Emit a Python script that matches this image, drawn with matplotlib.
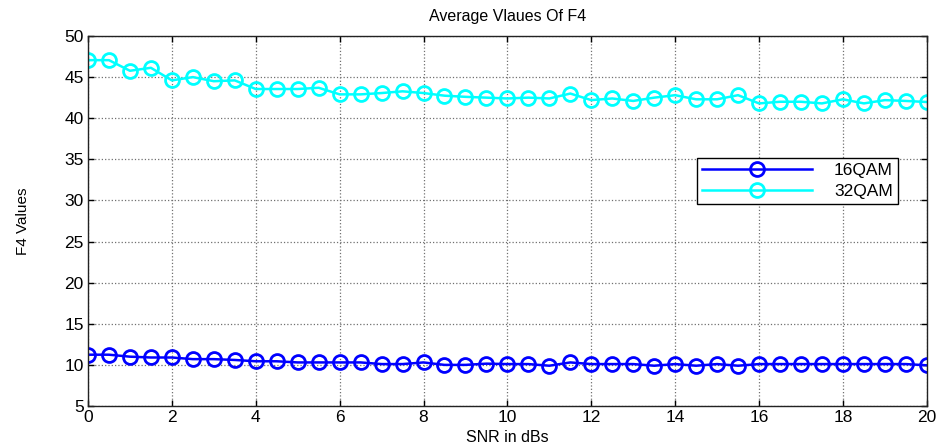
import matplotlib.pyplot as plt
import numpy as np

# ======= DATOS ==========
snr = np.arange(0, 20.5, 0.5)

f4_16qam = [11.24, 11.24, 11.0, 10.9, 10.9, 10.7, 10.7, 10.6, 10.44, 10.44,
            10.3, 10.3, 10.3, 10.3, 10.1, 10.1, 10.3, 10.0, 10.0, 10.15,
            10.1, 10.1, 9.9, 10.3, 10.1, 10.1, 10.1, 9.9, 10.1, 9.9,
            10.1, 9.9, 10.1, 10.1, 10.1, 10.1, 10.1, 10.1, 10.1, 10.1, 9.95]

f4_32qam = [47.06, 47.06, 45.77, 46.13, 44.6, 45.0, 44.5, 44.6, 43.55, 43.55,
            43.55, 43.7, 42.9, 42.9, 43.06, 43.27, 43.06, 42.74, 42.6, 42.5,
            42.4, 42.5, 42.4, 43.0, 42.2, 42.4, 42.1, 42.5, 42.8, 42.3,
            42.3, 42.8, 41.8, 42.0, 42.0, 41.8, 42.3, 41.8, 42.2, 42.1, 41.97]

titulo = "Average Vlaues Of F4"
etiqueta_x = "SNR in dBs"
etiqueta_y = "F4 Values"
# ================================

plt.rcParams['font.family'] = ['Liberation Sans', 'DejaVu Sans']

fig = plt.figure(figsize=(9.39, 4.47), dpi=100)
ax = fig.add_axes([0.0937, 0.0917, 0.8933, 0.8278])

ax.plot(snr, f4_16qam, marker='o', markersize=10, markerfacecolor='none',
        markeredgewidth=2, linewidth=1.8, color='#0000ff', label="16QAM")
ax.plot(snr, f4_32qam, marker='o', markersize=10, markerfacecolor='none',
        markeredgewidth=2, linewidth=1.8, color='#00ffff', label="32QAM")

ax.set_xlim(0, 20)
ax.set_ylim(5, 50)
ax.set_xticks(np.arange(0, 21, 2))
ax.set_yticks(np.arange(5, 51, 5))

ax.set_title(titulo, fontsize=11.5, pad=11)
ax.set_xlabel(etiqueta_x, fontsize=11.5, va='center')
ax.xaxis.set_label_coords(0.5, -0.084)
ax.set_ylabel(etiqueta_y, fontsize=11, labelpad=25)

ax.tick_params(axis='both', which='major', labelsize=12.5, direction='in',
               top=True, right=True, length=4, width=1, pad=3)
ax.grid(True, linestyle=':', linewidth=0.9, color='#707070')

for s in ax.spines.values():
    s.set_linewidth(1.0)
    s.set_color('#222222')

leg = ax.legend(loc='upper left', bbox_to_anchor=(0.726, 0.67), fontsize=12.5,
                fancybox=False, framealpha=1, edgecolor='black',
                handlelength=6.3, handletextpad=1.3, borderpad=0.3,
                labelspacing=0.3, borderaxespad=0)
leg.get_frame().set_linewidth(1.0)

plt.savefig("out.png")
plt.close()
print("out.png is saved")
